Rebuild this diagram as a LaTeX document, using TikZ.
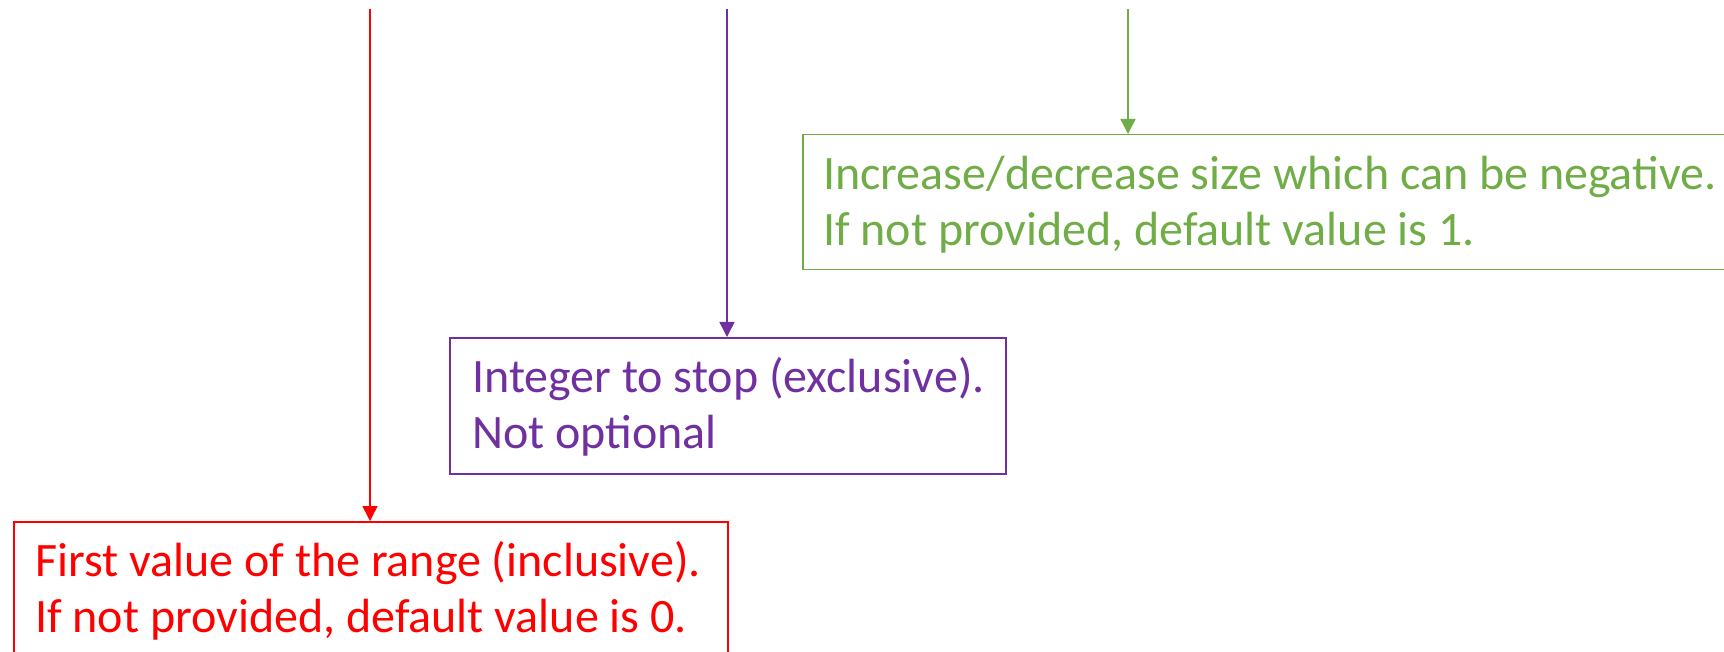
\documentclass[tikz,border=0pt]{standalone}
\usepackage{fontspec}
\setmainfont{Carlito}
\usetikzlibrary{arrows.meta}
\definecolor{cred}{HTML}{FF0000}
\definecolor{cpurple}{HTML}{7030A0}
\definecolor{cgreen}{HTML}{70AD47}
\begin{document}
\begin{tikzpicture}[x=1pt,y=-1pt,
  box/.style={draw=#1, line width=1.5pt, rectangle, inner sep=0pt, anchor=north west},
  lbl/.style={text=#1, font=\fontsize{48}{56}\selectfont, align=left, inner sep=0pt, anchor=north west},
  conn/.style={draw=#1, line width=1.5pt, -{Triangle[width=15pt,length=15pt]}}]
\useasboundingbox (0,0) rectangle (1724,652);
\clip (0,0) rectangle (1724,652);
% red
\node[box=cred, minimum width=714pt, minimum height=136pt] (rbox) at (13,521) {};
\node[lbl=cred] (rtext) at ([xshift=22pt,yshift=-15.8pt]rbox.north west)
  {\strut First value of the range (inclusive).\\ \strut If not provided, default value is 0.};
\coordinate (rtop) at (370,9);
\draw[conn=cred] (rtop) -- (rtop |- rbox.north);
% purple
\node[box=cpurple, minimum width=556pt, minimum height=136pt] (pbox) at (449,337) {};
\node[lbl=cpurple] (ptext) at ([xshift=23pt,yshift=-15.8pt]pbox.north west)
  {\strut Integer to stop (exclusive).\\ \strut Not optional};
\coordinate (ptop) at (727,9);
\draw[conn=cpurple] (ptop) -- (ptop |- pbox.north);
% green
\node[box=cgreen, minimum width=960pt, minimum height=135pt] (gbox) at (802,134) {};
\node[lbl=cgreen] (gtext) at ([xshift=21pt,yshift=-15.8pt]gbox.north west)
  {\strut Increase/decrease size which can be negative.\\ \strut If not provided, default value is 1.};
\coordinate (gtop) at (1128,9);
\draw[conn=cgreen] (gtop) -- (gtop |- gbox.north);
\end{tikzpicture}
\end{document}
